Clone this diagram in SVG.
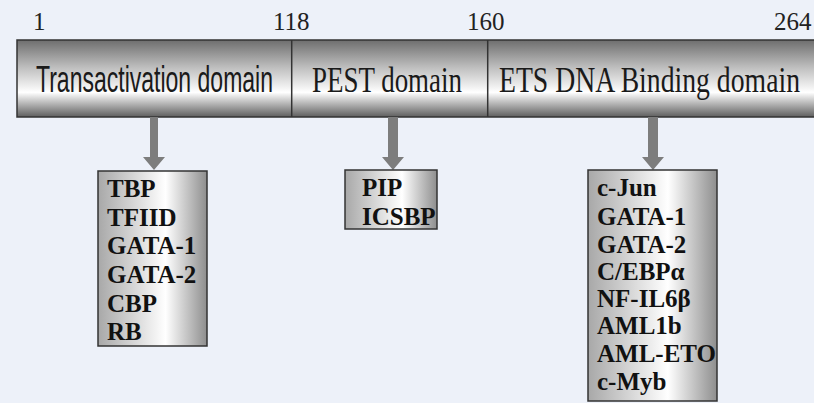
<svg xmlns="http://www.w3.org/2000/svg" width="814" height="403" viewBox="0 0 814 403">
<defs>
<linearGradient id="barGrad" x1="0" y1="0" x2="0" y2="1">
<stop offset="0" stop-color="#6e6e6e"/>
<stop offset="0.35" stop-color="#bdbdbd"/>
<stop offset="0.68" stop-color="#ffffff"/>
<stop offset="1" stop-color="#5e5e5e"/>
</linearGradient>
<linearGradient id="boxGrad" x1="0" y1="0" x2="1" y2="0">
<stop offset="0" stop-color="#a8a8a8"/>
<stop offset="0.62" stop-color="#ffffff"/>
<stop offset="1" stop-color="#8e8e8e"/>
</linearGradient>
<style>
.num{font-family:"Liberation Serif","Times New Roman",serif;font-size:25px;fill:#222}
.dsans{font-family:"Liberation Sans",Arial,sans-serif;font-size:37px;fill:#1a1a1a}
.dserif{font-family:"Liberation Serif","Times New Roman",serif;font-size:36px;fill:#1a1a1a}
.bx{fill:url(#boxGrad);stroke:#333;stroke-width:1.5}
.lbl{font-family:"Liberation Serif","Times New Roman",serif;font-size:25px;font-weight:bold;fill:#111}
.arr{fill:#7d7d7d}
.bar{fill:url(#barGrad);stroke:#333;stroke-width:1.5}
.div{stroke:#333;stroke-width:1.5}
</style>
</defs>
<rect width="814" height="403" fill="#edf1f9"/>
<g id="ruler">
<text class="num" x="33" y="30">1</text>
<text class="num" x="273" y="30">118</text>
<text class="num" x="467" y="30">160</text>
<text class="num" x="774" y="30">264</text>
</g>
<g id="protein-bar">
<rect class="bar" x="17" y="40" width="810" height="77"/>
<line class="div" x1="291.7" y1="40" x2="291.7" y2="117"/>
<line class="div" x1="487.7" y1="40" x2="487.7" y2="117"/>
</g>
<g id="transactivation">
<text class="dsans" x="36" y="92" textLength="237" lengthAdjust="spacingAndGlyphs">Transactivation domain</text>
</g>
<g id="pest">
<text class="dserif" x="312" y="92" textLength="150" lengthAdjust="spacingAndGlyphs">PEST domain</text>
</g>
<g id="ets">
<text class="dserif" x="499" y="92" textLength="301" lengthAdjust="spacingAndGlyphs">ETS DNA Binding domain</text>
</g>
<g id="connectors">
<polygon class="arr" points="150,117 158,117 158,157 165,157 154,170 143,157 150,157"/>
<polygon class="arr" points="388,117 398,117 398,157 404,157 393,170 382,157 388,157"/>
<polygon class="arr" points="648,117 658,117 658,157 664,157 653,170 642,157 648,157"/>
</g>
<g id="box-transactivation">
<rect class="bx" x="98" y="171" width="109" height="175"/>
<text class="lbl" x="107" y="197">TBP</text>
<text class="lbl" x="107" y="226">TFIID</text>
<text class="lbl" x="107" y="254">GATA-1</text>
<text class="lbl" x="107" y="283">GATA-2</text>
<text class="lbl" x="107" y="312">CBP</text>
<text class="lbl" x="107" y="340">RB</text>
</g>
<g id="box-pest">
<rect class="bx" x="345" y="170" width="92" height="59"/>
<text class="lbl" x="362" y="196">PIP</text>
<text class="lbl" x="362" y="225">ICSBP</text>
</g>
<g id="box-ets">
<rect class="bx" x="588" y="170" width="129" height="231"/>
<text class="lbl" x="597" y="196">c-Jun</text>
<text class="lbl" x="597" y="225">GATA-1</text>
<text class="lbl" x="597" y="253">GATA-2</text>
<text class="lbl" x="597" y="280">C/EBPα</text>
<text class="lbl" x="597" y="307">NF-IL6β</text>
<text class="lbl" x="597" y="334">AML1b</text>
<text class="lbl" x="597" y="362">AML-ETO</text>
<text class="lbl" x="597" y="390">c-Myb</text>
</g>
</svg>
